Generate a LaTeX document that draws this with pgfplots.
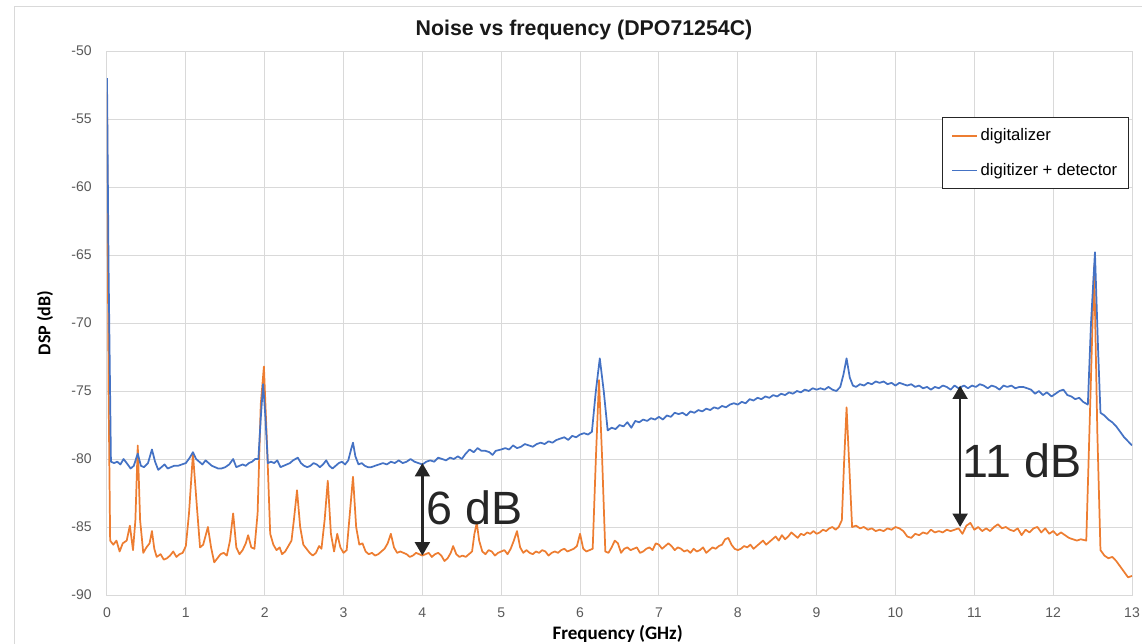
\documentclass[border=0pt]{standalone}
\usepackage{pgfplots}
\pgfplotsset{compat=1.18}
\usepackage{fontspec}
\setmainfont{Liberation Sans}
\newfontfamily\calibri{Carlito}
\usetikzlibrary{arrows.meta}

\definecolor{xlorange}{HTML}{ED7D31}
\definecolor{xlblue}{HTML}{4472C4}
\definecolor{gridgray}{HTML}{D9D9D9}
\definecolor{txtgray}{HTML}{595959}
\definecolor{annot}{HTML}{262626}

\begin{document}
\begin{tikzpicture}
% page = 1142 x 643 px, 1 px = 0.75pt, plot box lower-left at origin
\path[use as bounding box] (-80.25pt,-36pt) rectangle (776.25pt,446.25pt);
\draw[gridgray, line width=0.75pt] (-69pt,-100pt) rectangle (900pt,441pt);

\begin{axis}[
    at={(0,0)}, anchor=south west,
    scale only axis,
    width=768.75pt, height=408pt,
    xmin=0, xmax=13, ymin=-90, ymax=-50,
    xtick={0,1,...,13},
    ytick={-90,-85,...,-50},
    grid=major,
    grid style={gridgray, line width=0.75pt},
    axis line style={gridgray, line width=0.75pt},
    major tick length=0pt,
    tick label style={font=\fontsize{10.5}{12}\selectfont, text=txtgray},
    /pgf/number format/assume math mode=true,
    xticklabel style={yshift=-6pt},
    yticklabel style={xshift=-8pt},
    legend cell align=left,
    legend style={at={(rel axis cs:0.9971,0.8787)}, anchor=north east,
        draw=annot, line width=0.6pt, font=\fontsize{12.5}{15}\selectfont,
        row sep=11.5pt, inner xsep=6.5pt, inner ysep=6.5pt},
    legend image code/.code={\draw[#1] (0pt,0pt) -- (18.75pt,0pt);},
]
\addplot[xlorange, line width=1.3pt, line join=round] coordinates {
(0,-53.0) (0.02,-75) (0.04,-86.0) (0.08,-86.3) (0.12,-86.0) (0.16,-86.8) (0.2,-86.2)
(0.25,-86.0) (0.29,-84.9) (0.33,-86.7) (0.36,-84.5) (0.39,-79.0) (0.42,-84.5) (0.46,-86.9)
(0.5,-86.5) (0.54,-86.2) (0.57,-85.3) (0.6,-86.6) (0.63,-87.2) (0.68,-87.0) (0.72,-87.4)
(0.76,-87.3) (0.8,-87.1) (0.84,-86.8) (0.88,-87.2) (0.92,-87.0) (0.96,-86.9) (1.0,-86.4)
(1.04,-84.0) (1.09,-79.6) (1.14,-83.5) (1.18,-86.5) (1.22,-86.3) (1.28,-85.0) (1.32,-86.5)
(1.36,-87.6) (1.4,-87.3) (1.44,-87.0) (1.48,-86.9) (1.52,-87.1) (1.56,-86.0) (1.6,-84.0)
(1.64,-86.5) (1.68,-87.0) (1.72,-86.7) (1.76,-86.2) (1.79,-85.6) (1.83,-86.5) (1.87,-86.6)
(1.91,-84) (1.95,-76) (1.99,-73.2) (2.03,-79) (2.07,-85.5) (2.11,-86.3) (2.15,-86.7)
(2.19,-86.5) (2.22,-87.0) (2.26,-86.8) (2.3,-86.4) (2.34,-86.0) (2.37,-84.5) (2.41,-82.3)
(2.45,-85.0) (2.49,-86.3) (2.53,-86.6) (2.57,-86.9) (2.61,-87.1) (2.65,-86.9) (2.69,-86.4)
(2.72,-86.6) (2.76,-84.5) (2.8,-81.6) (2.84,-85.5) (2.88,-86.8) (2.92,-85.5) (2.96,-86.5)
(3.0,-86.9) (3.04,-86.7) (3.08,-84.0) (3.12,-81.3) (3.16,-85.0) (3.2,-86.3) (3.24,-86.2)
(3.28,-86.8) (3.32,-87.0) (3.36,-86.9) (3.4,-87.1) (3.44,-87.0) (3.48,-86.8) (3.52,-86.6)
(3.56,-86.2) (3.6,-85.5) (3.64,-86.5) (3.68,-86.9) (3.72,-86.8) (3.76,-86.9) (3.8,-87.0)
(3.84,-87.2) (3.88,-87.1) (3.92,-86.9) (3.96,-87.0) (4.0,-87.1) (4.04,-87.0) (4.08,-86.9)
(4.12,-87.2) (4.16,-87.0) (4.2,-86.9) (4.24,-87.1) (4.28,-87.5) (4.32,-87.3) (4.36,-86.9)
(4.39,-86.4) (4.43,-87.0) (4.47,-87.2) (4.51,-87.1) (4.55,-87.2) (4.59,-87.0) (4.63,-86.8)
(4.66,-85.5) (4.69,-84.7) (4.72,-86.0) (4.76,-86.8) (4.8,-87.0) (4.84,-86.7) (4.88,-86.8)
(4.92,-87.1) (4.96,-86.9) (5.0,-86.8) (5.04,-86.7) (5.08,-87.0) (5.12,-86.6) (5.16,-86.0)
(5.2,-85.3) (5.24,-86.5) (5.28,-86.9) (5.32,-86.7) (5.36,-86.9) (5.4,-87.0) (5.44,-86.8)
(5.48,-86.9) (5.52,-86.7) (5.56,-86.8) (5.6,-87.1) (5.64,-86.9) (5.68,-86.8) (5.72,-86.9)
(5.76,-86.7) (5.8,-86.6) (5.84,-86.8) (5.88,-86.7) (5.92,-86.6) (5.96,-86.4) (6.0,-85.5)
(6.04,-86.6) (6.08,-86.8) (6.12,-86.7) (6.16,-86.6) (6.2,-80) (6.24,-74.2) (6.28,-80)
(6.32,-86.8) (6.36,-86.9) (6.4,-86.5) (6.44,-86.0) (6.48,-86.2) (6.52,-86.9) (6.56,-86.6)
(6.6,-86.5) (6.64,-86.7) (6.68,-86.6) (6.72,-86.5) (6.76,-86.9) (6.8,-86.8) (6.84,-86.6)
(6.88,-86.5) (6.92,-86.7) (6.96,-86.2) (7.0,-86.3) (7.04,-86.6) (7.08,-86.4) (7.12,-86.2)
(7.16,-86.4) (7.2,-86.7) (7.24,-86.5) (7.28,-86.6) (7.32,-86.8) (7.36,-86.7) (7.4,-86.9)
(7.44,-86.6) (7.48,-86.8) (7.52,-86.7) (7.56,-86.5) (7.6,-86.9) (7.64,-86.7) (7.68,-86.5)
(7.72,-86.6) (7.76,-86.4) (7.8,-86.3) (7.84,-85.9) (7.88,-85.8) (7.92,-86.3) (7.96,-86.6)
(8.0,-86.7) (8.04,-86.6) (8.08,-86.4) (8.12,-86.5) (8.16,-86.3) (8.2,-86.6) (8.24,-86.4)
(8.28,-86.2) (8.32,-86.0) (8.36,-86.3) (8.4,-86.1) (8.44,-85.9) (8.48,-85.7) (8.52,-86.0)
(8.56,-85.6) (8.6,-85.9) (8.64,-85.7) (8.68,-85.4) (8.72,-85.6) (8.76,-85.8) (8.8,-85.5)
(8.84,-85.6) (8.88,-85.4) (8.92,-85.5) (8.96,-85.3) (9.0,-85.5) (9.04,-85.4) (9.08,-85.2)
(9.12,-85.3) (9.16,-85.1) (9.2,-85.0) (9.24,-85.2) (9.28,-85.0) (9.32,-84.5) (9.35,-80)
(9.38,-76.2) (9.41,-80) (9.45,-85.0) (9.5,-84.9) (9.55,-85.1) (9.6,-85.0) (9.65,-85.2)
(9.7,-85.1) (9.75,-85.3) (9.8,-85.2) (9.85,-85.3) (9.9,-85.1) (9.95,-85.2) (10.0,-85.0)
(10.05,-85.1) (10.1,-85.3) (10.15,-85.7) (10.2,-85.8) (10.25,-85.5) (10.3,-85.6) (10.35,-85.4)
(10.4,-85.5) (10.45,-85.2) (10.5,-85.4) (10.55,-85.3) (10.6,-85.4) (10.65,-85.2) (10.7,-85.3)
(10.75,-85.2) (10.8,-85.1) (10.85,-85.5) (10.9,-84.9) (10.95,-84.7) (11.0,-85.2) (11.05,-85.0)
(11.1,-85.3) (11.15,-85.1) (11.2,-85.3) (11.25,-85.0) (11.3,-84.8) (11.35,-85.1) (11.4,-85.0)
(11.45,-85.2) (11.5,-85.3) (11.55,-85.1) (11.6,-85.6) (11.65,-85.2) (11.7,-85.4) (11.75,-85.1)
(11.8,-85.0) (11.85,-85.4) (11.9,-85.1) (11.95,-85.5) (12.0,-85.3) (12.05,-85.6) (12.1,-85.4)
(12.15,-85.6) (12.2,-85.8) (12.25,-85.9) (12.3,-86.0) (12.35,-85.9) (12.42,-86.0) (12.46,-78)
(12.52,-65.8) (12.56,-78) (12.6,-86.7) (12.65,-87.1) (12.7,-87.3) (12.75,-87.2) (12.8,-87.5)
(12.85,-87.9) (12.9,-88.3) (12.95,-88.7) (13.0,-88.6)
};
\addlegendentry{digitalizer}

\addplot[xlblue, line width=1.3pt, line join=round] coordinates {
(0,-52.0) (0.02,-66) (0.05,-80.2) (0.09,-80.3) (0.13,-80.2) (0.17,-80.4) (0.21,-80.0)
(0.25,-80.3) (0.3,-80.7) (0.34,-80.5) (0.39,-79.6) (0.43,-80.5) (0.47,-80.6) (0.52,-80.3)
(0.57,-79.3) (0.61,-80.2) (0.65,-80.8) (0.69,-80.6) (0.73,-80.4) (0.77,-80.7) (0.81,-80.6)
(0.85,-80.5) (0.9,-80.5) (0.95,-80.4) (1.0,-80.3) (1.05,-79.9) (1.09,-79.5) (1.13,-80.0)
(1.17,-80.2) (1.21,-80.4) (1.25,-80.1) (1.29,-80.3) (1.33,-80.5) (1.37,-80.6) (1.41,-80.7)
(1.45,-80.7) (1.5,-80.6) (1.55,-80.4) (1.6,-80.0) (1.64,-80.6) (1.68,-80.5) (1.72,-80.4)
(1.76,-80.5) (1.8,-80.3) (1.84,-80.2) (1.88,-80.0) (1.92,-80.0) (1.95,-77) (1.98,-74.5)
(2.01,-77) (2.04,-80.3) (2.08,-80.2) (2.12,-80.3) (2.16,-80.1) (2.2,-80.6) (2.24,-80.5)
(2.28,-80.4) (2.32,-80.3) (2.36,-80.1) (2.42,-79.9) (2.46,-80.3) (2.5,-80.5) (2.54,-80.6)
(2.58,-80.5) (2.62,-80.3) (2.66,-80.4) (2.7,-80.6) (2.74,-80.4) (2.78,-80.1) (2.82,-80.5)
(2.86,-80.7) (2.9,-80.5) (2.94,-80.3) (2.98,-80.2) (3.02,-80.4) (3.06,-80.1) (3.1,-79.2)
(3.12,-78.8) (3.15,-79.8) (3.19,-80.4) (3.23,-80.3) (3.27,-80.5) (3.31,-80.6) (3.35,-80.6)
(3.4,-80.5) (3.45,-80.4) (3.5,-80.3) (3.55,-80.4) (3.6,-80.2) (3.65,-80.3) (3.7,-80.1)
(3.75,-80.3) (3.8,-80.2) (3.85,-80.0) (3.9,-80.2) (3.95,-80.3) (4.0,-80.4) (4.05,-80.2)
(4.1,-80.1) (4.15,-80.2) (4.2,-79.9) (4.25,-80.0) (4.3,-80.1) (4.35,-79.9) (4.4,-80.0)
(4.45,-79.8) (4.5,-80.0) (4.55,-79.6) (4.6,-79.3) (4.65,-79.5) (4.7,-79.2) (4.75,-79.4)
(4.8,-79.4) (4.85,-79.5) (4.89,-79.7) (4.93,-79.4) (5.0,-79.3) (5.05,-79.2) (5.1,-79.3)
(5.15,-79.0) (5.2,-79.2) (5.25,-79.1) (5.3,-78.9) (5.35,-79.0) (5.4,-79.1) (5.45,-78.9)
(5.5,-78.8) (5.55,-78.9) (5.6,-78.7) (5.65,-78.8) (5.7,-78.6) (5.75,-78.5) (5.8,-78.4)
(5.85,-78.6) (5.9,-78.3) (5.95,-78.4) (6.0,-78.2) (6.05,-78.1) (6.1,-78.2) (6.15,-78.0)
(6.2,-75) (6.25,-72.6) (6.3,-75) (6.35,-77.9) (6.4,-77.7) (6.45,-77.8) (6.5,-77.5)
(6.55,-77.6) (6.6,-77.3) (6.65,-77.7) (6.7,-77.2) (6.75,-77.3) (6.8,-77.1) (6.85,-77.2)
(6.9,-77.0) (6.95,-77.1) (7.0,-76.9) (7.05,-77.1) (7.1,-76.8) (7.15,-76.9) (7.2,-76.6)
(7.25,-76.7) (7.3,-76.6) (7.35,-76.8) (7.4,-76.5) (7.45,-76.6) (7.5,-76.4) (7.55,-76.5)
(7.6,-76.3) (7.65,-76.4) (7.7,-76.2) (7.75,-76.3) (7.8,-76.1) (7.85,-76.2) (7.9,-76.0)
(7.95,-75.9) (8.0,-76.0) (8.05,-75.8) (8.1,-75.9) (8.15,-75.6) (8.2,-75.7) (8.25,-75.5)
(8.3,-75.6) (8.35,-75.4) (8.4,-75.5) (8.45,-75.3) (8.5,-75.4) (8.55,-75.2) (8.6,-75.3)
(8.65,-75.1) (8.7,-75.2) (8.75,-75.0) (8.8,-75.1) (8.85,-74.9) (8.9,-75.0) (8.95,-74.8)
(9.0,-74.9) (9.05,-74.8) (9.1,-74.9) (9.15,-74.7) (9.2,-74.9) (9.25,-75.0) (9.3,-74.7)
(9.34,-73.8) (9.38,-72.6) (9.42,-74.0) (9.46,-74.6) (9.5,-74.7) (9.55,-74.5) (9.6,-74.6)
(9.65,-74.4) (9.7,-74.5) (9.75,-74.3) (9.8,-74.4) (9.85,-74.3) (9.9,-74.5) (9.95,-74.4)
(10.0,-74.6) (10.05,-74.4) (10.1,-74.5) (10.15,-74.6) (10.2,-74.5) (10.25,-74.7) (10.3,-74.6)
(10.35,-74.8) (10.4,-74.7) (10.45,-74.9) (10.5,-74.7) (10.55,-74.8) (10.6,-74.6) (10.65,-74.7)
(10.7,-74.9) (10.75,-74.6) (10.8,-74.8) (10.87,-74.6) (10.92,-74.8) (10.97,-74.6) (11.02,-74.7)
(11.07,-74.5) (11.12,-74.6) (11.17,-74.8) (11.22,-74.6) (11.27,-74.7) (11.32,-74.9) (11.37,-74.6)
(11.42,-74.7) (11.47,-74.6) (11.52,-74.8) (11.57,-74.7) (11.62,-74.7) (11.67,-74.8) (11.72,-74.9)
(11.77,-75.2) (11.82,-75.0) (11.87,-75.3) (11.92,-75.1) (11.98,-75.4) (12.03,-75.2) (12.08,-75.0)
(12.13,-74.9) (12.18,-75.3) (12.23,-75.4) (12.28,-75.6) (12.33,-75.5) (12.38,-75.8) (12.44,-76.0)
(12.48,-70) (12.53,-64.8) (12.57,-72) (12.6,-76.6) (12.65,-76.8) (12.7,-77.1) (12.75,-77.3)
(12.8,-77.6) (12.85,-78.0) (12.9,-78.4) (12.95,-78.7) (13.0,-79.0)
};
\addlegendentry{digitizer + detector}

% annotations
\draw[annot, line width=2pt, {Triangle[width=11pt,length=10pt]}-{Triangle[width=11pt,length=10pt]}]
    (axis cs:4,-80.3) -- (axis cs:4,-87.1);
\node[annot, anchor=west, font=\fontsize{35}{40}\selectfont, inner sep=0pt]
    at (axis cs:4.05,-83.6) {6 dB};
\draw[annot, line width=2pt, {Triangle[width=11pt,length=10pt]}-{Triangle[width=11pt,length=10pt]}]
    (axis cs:10.82,-74.6) -- (axis cs:10.82,-85.0);
\node[annot, anchor=west, font=\fontsize{35}{40}\selectfont, inner sep=0pt]
    at (axis cs:10.85,-80.1) {11 dB};
\end{axis}

\node[font=\bfseries\fontsize{16}{19}\selectfont, text=black!90] at (357.75pt,423.75pt)
    {Noise vs frequency (DPO71254C)};
\node[font=\calibri\bfseries\fontsize{13.5}{16}\selectfont, rotate=90] at (-46.5pt,204pt) {DSP (dB)};
\node[font=\calibri\bfseries\fontsize{14.3}{16}\selectfont] at (383pt,-29pt) {Frequency (GHz)};
\end{tikzpicture}
\end{document}
